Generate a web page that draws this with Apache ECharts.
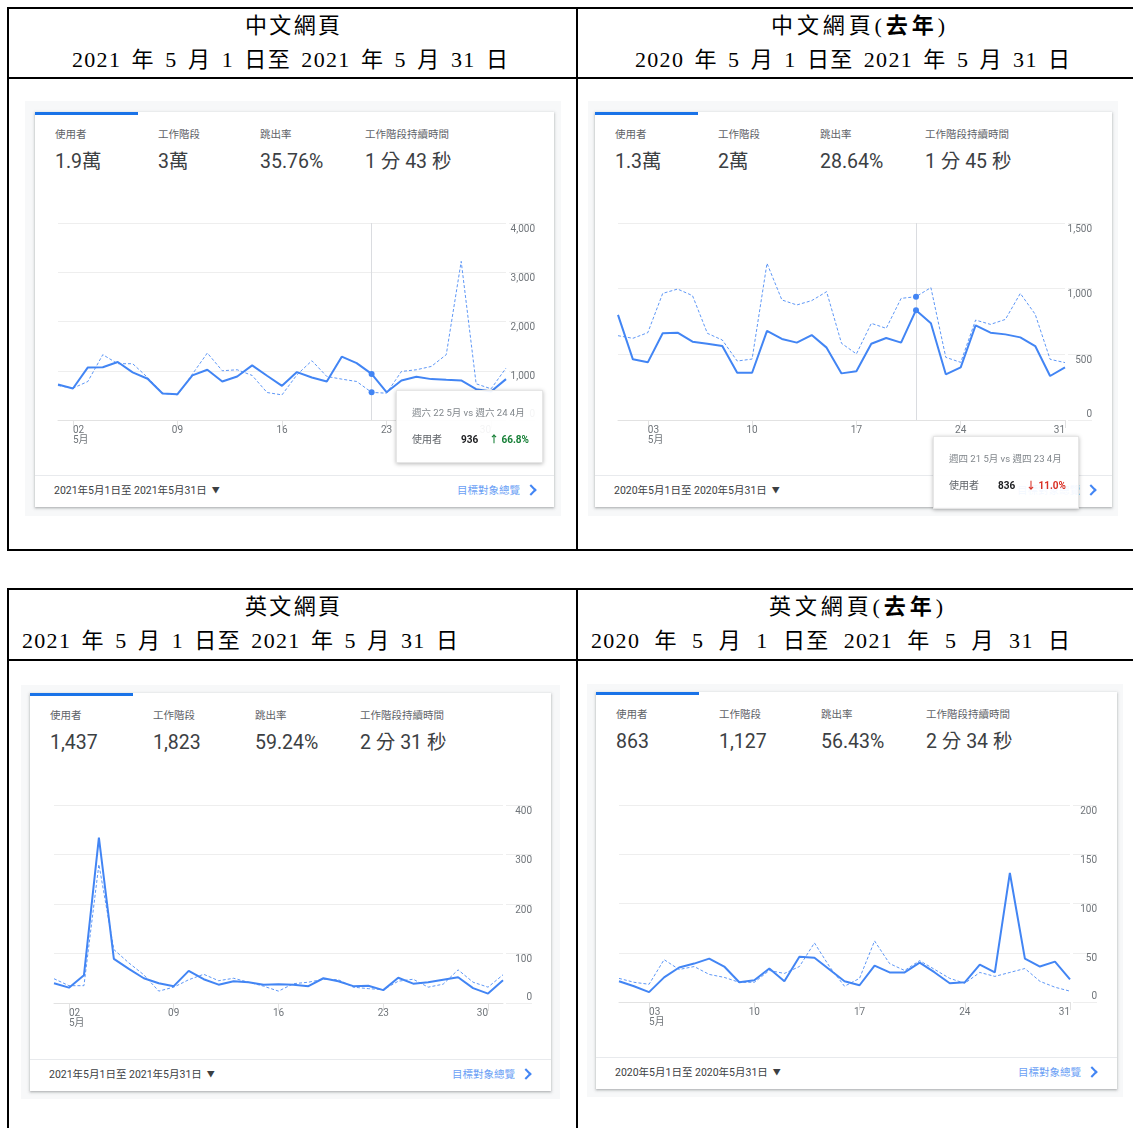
<!DOCTYPE html>
<html><head><meta charset="utf-8"><title>GA</title>
<script src="https://cdn.jsdelivr.net/npm/echarts@6.0.0/dist/echarts.min.js"></script>
<style>
html,body{margin:0;padding:0;background:#fff}
body{width:1133px;height:1128px;position:relative;overflow:hidden;font-family:Roboto,"Noto Sans CJK TC","Noto Sans",sans-serif}
.ln{position:absolute;background:#000;z-index:1}
.ttl{position:absolute;font-family:"Liberation Serif","Noto Sans CJK TC",serif;font-size:22px;line-height:26px;color:#000;white-space:pre;z-index:1}
.gray{position:absolute;background:#f7f8f9}
.card{position:absolute;background:#fff;box-shadow:0 1px 2px rgba(60,64,67,.3),0 1px 3px 1px rgba(60,64,67,.12)}
.bar{position:absolute;left:0;top:0;width:103px;height:3px;background:#1a73e8}
.mlab{position:absolute;font-size:10.5px;color:#5f6368;line-height:12px;white-space:nowrap}
.mval{position:absolute;font-size:19.5px;color:#3c4043;line-height:22px;white-space:nowrap}
.sep{position:absolute;left:0;right:0;height:1px;background:#e8eaed}
.fdate{position:absolute;font-size:10.5px;color:#3c4043;line-height:14px;white-space:nowrap}
.fdate span{font-size:8px;margin-left:5px;vertical-align:1px}
.flink{position:absolute;font-size:10.5px;color:#6b9ff5;line-height:14px;white-space:nowrap}
.chev{position:absolute;width:6px;height:6px;border-top:2px solid #4285f4;border-right:2px solid #4285f4;transform:rotate(45deg)}
#chart{position:absolute;left:0;top:0;width:1133px;height:1128px;z-index:5;pointer-events:none}
.tip{position:absolute;z-index:10;background:rgba(255,255,255,.92);box-shadow:0 1px 4px rgba(0,0,0,.28);border:1px solid #e6e6e6;box-sizing:border-box}
.tip div{position:absolute;white-space:nowrap;line-height:12px}
</style></head>
<body>
<div id="chart"></div>
<script>
// ---- data ----
const days = ['01','02','03','04','05','06','07','08','09','10','11','12','13','14','15','16','17','18','19','20','21','22','23','24','25','26','27','28','29','30','31'];
const metricLabels = ['使用者','工作階段','跳出率','工作階段持續時間'];

const tlMetrics = ['1.9萬','3萬','35.76%','1 分 43 秒'];
const trMetrics = ['1.3萬','2萬','28.64%','1 分 45 秒'];
const blMetrics = ['1,437','1,823','59.24%','2 分 31 秒'];
const brMetrics = ['863','1,127','56.43%','2 分 34 秒'];

const tlCurrent  = [720,640,1068,1072,1177,966,837,537,524,905,1020,782,884,1109,898,694,973,864,782,1286,1156,936,565,803,878,830,816,803,626,578,830];
const tlPrevious = [700,646,782,1327,1143,1143,864,544,510,932,1360,1000,1020,905,558,510,918,1204,884,830,782,561,544,986,1020,1088,1327,3220,735,633,1054];
const trCurrent  = [800,462,439,660,665,596,581,563,360,360,678,617,589,647,551,355,371,581,624,589,836,736,348,401,721,665,652,629,563,335,401];
const trPrevious = [642,622,665,964,997,947,660,609,449,464,1193,914,876,909,977,584,503,736,698,926,939,1008,477,439,761,728,766,964,805,462,437];
const blCurrent  = [40,31,56,334,89,69,50,40,34,65,48,37,44,42,37,38,37,34,50,44,34,35,26,51,39,42,47,52,30,19,46];
const blPrevious = [49,35,35,280,108,81,57,24,32,47,58,45,50,42,34,24,39,42,48,47,32,29,27,44,48,32,38,67,42,32,57];
const brCurrent  = [21,16,10,25,35,39,44,36,20,22,34,21,46,45,33,21,17,37,30,30,40,30,19,20,38,30,131,44,36,41,23];
const brPrevious = [24,20,18,43,33,36,28,25,20,20,32,29,36,60,36,16,24,62,39,32,42,33,24,19,30,26,30,34,21,15,11];

const tlYTicks = [0,1000,2000,3000,4000];
const trYTicks = [0,500,1000,1500];
const blYTicks = [0,100,200,300,400];
const brYTicks = [0,50,100,150,200];

const titles = [
  {text:'中文網頁', left:245, top:13, width:95, mode:'letter'},
  {text:'2021 年 5 月 1 日至 2021 年 5 月 31 日', left:72, top:47, width:436, mode:'word'},
  {html:'中文網頁(<b>去年</b>)', left:771, top:13, width:174, mode:'letter'},
  {text:'2020 年 5 月 1 日至 2021 年 5 月 31 日', left:635, top:47, width:435, mode:'word'},
  {text:'英文網頁', left:245, top:594, width:95, mode:'letter'},
  {text:'2021 年 5 月 1 日至 2021 年 5 月 31 日', left:22, top:628, width:436, mode:'word'},
  {html:'英文網頁(<b>去年</b>)', left:769, top:594, width:174, mode:'letter'},
  {text:'2020 年 5 月 1 日至 2021 年 5 月 31 日', left:591, top:628, width:479, mode:'word'}
];

// ---- table lines ----
const lines = [
  [7,7,1130,2],[7,77,1130,2],[7,549,1130,2],[7,7,2,544],[576,7,2,544],
  [7,588,1130,2],[7,659,1130,2],[7,588,2,545],[576,588,2,545]
];
lines.forEach(l=>{const d=document.createElement('div');d.className='ln';
  d.style.cssText=`left:${l[0]}px;top:${l[1]}px;width:${l[2]}px;height:${l[3]}px`;document.body.appendChild(d);});

const titleEls=[];
titles.forEach(t=>{const d=document.createElement('div');d.className='ttl';
  if(t.html)d.innerHTML=t.html;else d.textContent=t.text;
  d.style.left=t.left+'px';d.style.top=t.top+'px';document.body.appendChild(d);titleEls.push([d,t]);});
function fitTitles(){titleEls.forEach(([d,t])=>{
  d.style.wordSpacing='0px';
  if(t.mode==='word'){
    const ls=1.3;d.style.letterSpacing=ls+'px';
    const nat=d.getBoundingClientRect().width-ls;
    const n=(d.textContent.match(/ /g)||[]).length;d.style.wordSpacing=((t.width-nat)/n)+'px';}
  else{d.style.letterSpacing='0px';const nat=d.getBoundingClientRect().width;
    const n=d.textContent.length;d.style.letterSpacing=((t.width-nat)/(n-1))+'px';}
});}
fitTitles();
if(document.fonts&&document.fonts.ready)document.fonts.ready.then(fitTitles);

// ---- cards ----
const cards = [
  {gx:25,gy:101,gw:536,gh:415,x:35,y:112,w:519,h:395,m:tlMetrics,date:'2021年5月1日至 2021年5月31日'},
  {gx:588,gy:101,gw:530,gh:415,x:595,y:112,w:517,h:395,m:trMetrics,date:'2020年5月1日至 2020年5月31日'},
  {gx:21,gy:685,gw:539,gh:414,x:30,y:693,w:521,h:398,m:blMetrics,date:'2021年5月1日至 2021年5月31日'},
  {gx:587,gy:684,gw:536,gh:413,x:596,y:692,w:521,h:397,m:brMetrics,date:'2020年5月1日至 2020年5月31日'}
];
const colX=[20,123,225,330];
cards.forEach(c=>{
  const g=document.createElement('div');g.className='gray';
  g.style.cssText=`left:${c.gx}px;top:${c.gy}px;width:${c.gw}px;height:${c.gh}px`;document.body.appendChild(g);
  const d=document.createElement('div');d.className='card';
  d.style.cssText=`left:${c.x}px;top:${c.y}px;width:${c.w}px;height:${c.h}px`;
  let h='<div class="bar"></div>';
  metricLabels.forEach((lab,i)=>{
    h+=`<div class="mlab" style="left:${colX[i]}px;top:17px">${lab}</div>`;
    h+=`<div class="mval" style="left:${colX[i]}px;top:39px">${c.m[i]}</div>`;
  });
  h+=`<div class="sep" style="top:${c.h-32}px"></div>`;
  h+=`<div class="fdate" style="left:19px;top:${c.h-23}px">${c.date}<span>▼</span></div>`;
  h+=`<div class="flink" style="left:422px;top:${c.h-23}px">目標對象總覽</div>`;
  h+=`<div class="chev" style="left:492px;top:${c.h-21}px"></div>`;
  d.innerHTML=h;document.body.appendChild(d);
});

// ---- tooltips ----
const tips = [
  {left:396,top:390,w:147,h:73,head:'週六 22 5月 vs 週六 24 4月',val:'936',chg:'↑ 66.8%',col:'#188038'},
  {left:933,top:436,w:146,h:73,head:'週四 21 5月 vs 週四 23 4月',val:'836',chg:'↓ 11.0%',col:'#d93025'}
];
tips.forEach(t=>{const d=document.createElement('div');d.className='tip';
  d.style.cssText=`left:${t.left}px;top:${t.top}px;width:${t.w}px;height:${t.h}px`;
  d.innerHTML=`<div style="left:15px;top:16px;font-size:9.5px;color:#80868b">${t.head}</div>
  <div style="left:15px;top:43px;font-size:10px;color:#5f6368">使用者</div>
  <div style="left:64px;top:43px;font-size:10px;color:#202124;font-weight:700">${t.val}</div>
  <div style="left:92px;top:43px;font-size:10px;color:${t.col};font-weight:700">${t.chg}</div>`;
  document.body.appendChild(d);});

// ---- charts ----
const panels = [
  {cur:tlCurrent,prev:tlPrevious,ticks:tlYTicks,first:1,hover:21,left:58,top:223,width:448,height:197,labelRight:535},
  {cur:trCurrent,prev:trPrevious,ticks:trYTicks,first:2,hover:20,left:618,top:223,width:447,height:197,labelRight:1092},
  {cur:blCurrent,prev:blPrevious,ticks:blYTicks,first:1,hover:null,left:54,top:805,width:449,height:198,labelRight:532},
  {cur:brCurrent,prev:brPrevious,ticks:brYTicks,first:2,hover:null,left:619,top:805,width:451,height:197,labelRight:1097}
];
const grids=[],xAxes=[],yAxes=[],series=[];
const lblColor='#70757a', gridColor='#eeeeee', axisColor='#e2e2e2', blue='#4285f4';
function yFmt(v){return v===0?'{z|0}':'{n|'+v.toLocaleString('en-US')+'}';}
panels.forEach(p=>{
  const gi=grids.length;
  const right=p.left+p.width;
  grids.push({left:p.left,top:p.top,width:p.width,height:p.height});
  grids.push({left:right+3,top:p.top,width:p.labelRight-right-3,height:p.height});
  const tmin=p.ticks[0],tmax=p.ticks[p.ticks.length-1],step=p.ticks[1]-p.ticks[0];
  const show=(idx)=>idx>=p.first&&(idx-p.first)%7===0;
  xAxes.push({type:'category',gridIndex:gi,data:days,boundaryGap:false,
    axisLine:{show:true,lineStyle:{color:axisColor,width:1}},
    axisTick:{show:true,interval:(i)=>show(i),length:8,lineStyle:{color:axisColor}},
    axisLabel:{interval:(i)=>show(i),margin:5,fontSize:10,lineHeight:10,color:lblColor,
      fontFamily:'Roboto, "Noto Sans CJK TC"',alignMinLabel:'left',alignMaxLabel:'right',
      formatter:(v,i)=>i===p.first?v+'\n5月':v},
    splitLine:{show:false}});
  xAxes.push({type:'value',gridIndex:gi+1,show:false,min:0,max:1});
  yAxes.push({type:'value',gridIndex:gi,position:'right',min:tmin,max:tmax,interval:step,
    axisLine:{show:false},axisTick:{show:false},splitLine:{show:true,lineStyle:{color:gridColor,width:1}},
    axisLabel:{align:'right',margin:p.labelRight-right,formatter:yFmt,fontFamily:'Roboto',
      rich:{n:{fontSize:10,color:lblColor,fontFamily:'Roboto',padding:[12,0,0,0]},
            z:{fontSize:10,color:lblColor,fontFamily:'Roboto',padding:[0,0,12,0]}}}});
  yAxes.push({type:'value',gridIndex:gi+1,min:tmin,max:tmax,interval:step,
    axisLine:{show:false},axisTick:{show:false},axisLabel:{show:false},
    splitLine:{show:true,lineStyle:{color:gridColor,width:1}}});
  const dashed={type:'line',xAxisIndex:gi,yAxisIndex:gi,data:p.prev,symbol:'none',z:2,
    lineStyle:{color:blue,width:1,type:[3,2],opacity:0.85}};
  const solid={type:'line',xAxisIndex:gi,yAxisIndex:gi,data:p.cur,symbol:'none',z:3,
    lineStyle:{color:blue,width:2}};
  if(p.hover!==null){
    solid.markLine={silent:true,symbol:['none','none'],label:{show:false},animation:false,
      lineStyle:{color:'#dadce0',width:1,type:'solid'},data:[{xAxis:days[p.hover]}]};
    solid.markPoint={symbol:'circle',symbolSize:6,label:{show:false},itemStyle:{color:blue},animation:false,
      data:[{coord:[days[p.hover],p.cur[p.hover]]}]};
    dashed.markPoint={symbol:'circle',symbolSize:6,label:{show:false},itemStyle:{color:blue},animation:false,
      data:[{coord:[days[p.hover],p.prev[p.hover]]}]};
  }
  series.push(dashed,solid);
});
const chart=echarts.init(document.getElementById('chart'),null,{renderer:'canvas',width:1133,height:1128});
chart.setOption({backgroundColor:'transparent',animation:false,grid:grids,xAxis:xAxes,yAxis:yAxes,series:series});
</script>
</body></html>
